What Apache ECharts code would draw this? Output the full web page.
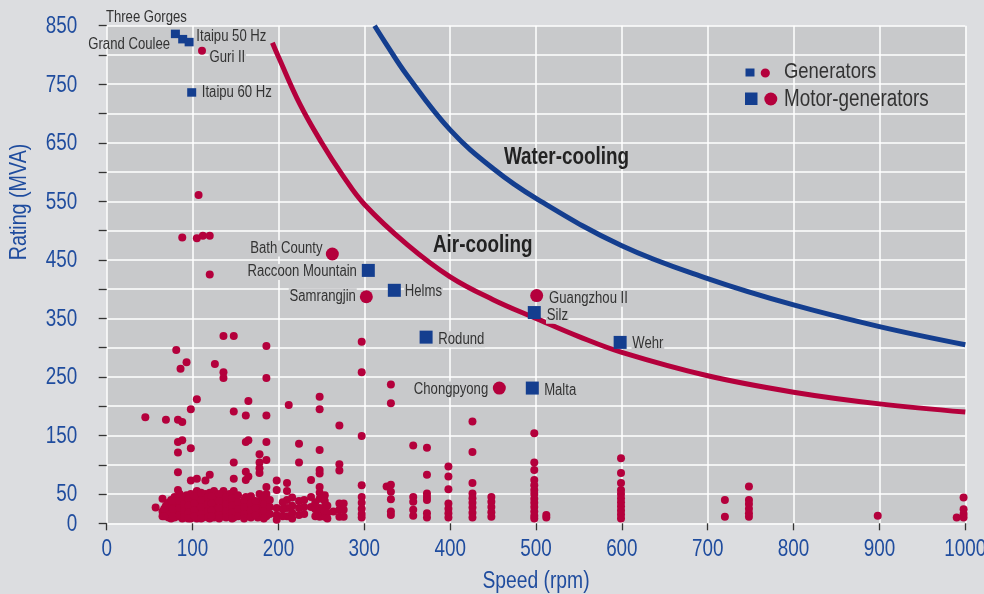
<!DOCTYPE html>
<html>
<head>
<meta charset="utf-8">
<script src="https://cdn.jsdelivr.net/npm/echarts@6/dist/echarts.min.js"></script>
<style>
html,body{margin:0;padding:0;background:#dcdde0;}
#chart{width:984px;height:594px;}
</style>
</head>
<body>
<div id="chart"></div>
<script>
// ---------- DATA ----------
const xTicks = [0,100,200,300,400,500,600,700,800,900,1000];
const yTickLabels = [0,50,150,250,350,450,550,650,750,850];

// Air-cooling limit curve (speed rpm, rating MVA)
const airSpeed  = [193,200,225,250,275,300,350,400,450,500,550,600,700,800,900,1000];
const airRating = [821,797,716,651,594,545,476,421,382,350,319,292,252,224,204,190];

// Water-cooling limit curve
const waterSpeed  = [312,325,350,400,450,500,600,700,800,900,1000];
const waterRating = [850,820,765,672,606,555,474,418,373,336,305];

// Generators (small red dots): speed column -> ratings
const genSpeeds = [45,57,65,69,72,75,79,81,83,86,88,93,98,105,107,112,115,120,125,126,129,136,143,148,158,162,165,171,176,178,186,198,210,212,224,238,248,254,264,271,276,297,326,331,357,373,398,426,448,498,512,599,720,748,898,990,998];
const genRatings = [
  [181],[27],[42,20,12],[177,30,15],[35,22,10],[40,28,15,8],[45,32,20,10],[296],
  [177,139,121,87,57,45,33,22,12],[264],[488,173,142,40,28,15,8],[275,48,35,25,12],
  [195,128,73,50,38,26,15,8],[487,212,76,55,42,30,18,8],[561],[491,45,32,20,10],
  [73,50,38,25,12],[491,425,83,52,40,28,15,8],[55,45,32,20,10],[272],[40,25,12],
  [320,258,248,55,45,33,22,12],[50,38,25,12],[320,191,104,76,55,45,32,20,10],[30,18],
  [184,139,88,74,45,35,22,12],[209,142,80,40,28,15],[25],[35,20,10],
  [118,104,94,86,50,38,25,12],[303,248,184,139,108,62,50,38,25,12],[73,57,26,14,6],
  [69,55,40,26,12],[202],[136,104,38,26,14],[74,45,28],
  [216,195,125,91,85,62,52,42,26,18,11],[48,38,28,20,11],[20],[167,101,90,34,23,11],
  [34,23,11],[310,258,149,65,45,35,25,16,10],[63],[237,205,66,54,41,20,14],
  [133,45,37,23,13],[129,83,51,45,40,17,10],[97,80,58,34,25,17,10],
  [174,122,69,51,43,35,27,18,10],[45,37,28,19,11],
  [154,104,91,74,65,57,50,42,35,28,20,13,8],[14,10],
  [111,86,69,57,50,43,36,29,22,15,8],[40,11],[63,40,33,25,17,11],[13],[10],[44,24,16,10]
];
// Generators in the dense low-rating cluster (small red dots)
const denseSpeeds = [67,77,85,90,95,102,110,118,122,131,139,146,153,160,168,173,183,190,205,216,230,243,257];
const denseRatings = [
  [25,12],[38,24,12],[50,38,26,14],[45,32,20,10],[42,30,18,8],[46,34,22,12],
  [52,40,28,16,8],[44,32,20,10],[46,34,22,12],[50,38,26,14,8],[44,32,20,10],
  [42,30,18,8],[48,36,24,12],[40,28,16,8],[46,34,22,10],[38,26,14],[44,32,20,8],
  [40,28,16],[36,24,12],[44,30,18,8],[40,28,16],[36,24,12],[30,18,8]
];

// Named generators (small blue squares)
const genSqNames  = ['Three Gorges','Grand Coulee','Itaipu 50 Hz','Itaipu 60 Hz'];
const genSqSpeed  = [80,88.5,96,99];
const genSqRating = [836,827,822,736];

// Named generator (small red dot)
const genDotNames  = ['Guri II'];
const genDotSpeed  = [111];
const genDotRating = [807];

// Motor-generators (large blue squares)
const mgSqNames  = ['Raccoon Mountain','Helms','Silz','Rodund','Wehr','Malta'];
const mgSqSpeed  = [304.7,335,498,372,598,495.7];
const mgSqRating = [432,398,360,318,309,231];

// Motor-generators (large red dots)
const mgDotNames  = ['Bath County','Samrangjin','Guangzhou II','Chongpyong'];
const mgDotSpeed  = [262.8,302.4,500.8,457.3];
const mgDotRating = [460,387,389,231];

// ---------- STYLE ----------
const RED = '#b4003c', BLUE = '#143e8f', AXISBLUE = '#1f4c9e', TXT = '#333333', PLOT = '#c8c9cb';
const FONT = "'Liberation Sans', Arial, sans-serif";
const NARROW = 0.82;
// label anchor relative to marker centre (pixels)
const labelPlace = {
  'Three Gorges': {align:'center', dx:-29, dy:-17, nobg:true},
  'Grand Coulee': {align:'right', dx:-12.7, dy:5, nobg:true},
  'Itaipu 50 Hz': {align:'left', dx:6.4, dy:-6.3},
  'Itaipu 60 Hz': {align:'left', dx:9.3, dy:0},
  'Guri II': {align:'left', dx:6.7, dy:6.6},
  'Bath County': {align:'right', dx:-9, dy:-6},
  'Raccoon Mountain': {align:'right', dx:-10.6, dy:1},
  'Samrangjin': {align:'right', dx:-9.6, dy:-1},
  'Helms': {align:'left', dx:9.7, dy:1},
  'Guangzhou II': {align:'left', dx:11.6, dy:2.6},
  'Silz': {align:'left', dx:11.7, dy:2.7},
  'Rodund': {align:'left', dx:11.4, dy:1.7},
  'Wehr': {align:'left', dx:11.4, dy:1},
  'Chongpyong': {align:'right', dx:-10.3, dy:1},
  'Malta': {align:'left', dx:11, dy:1.7}
};

function pts(names, xs, ys){ return names.map((n,i)=>({name:n, value:[xs[i],ys[i]]})); }
const genDots = [];
genSpeeds.forEach((s,i)=>genRatings[i].forEach(r=>genDots.push([s,r])));
denseSpeeds.forEach((s,i)=>denseRatings[i].forEach(r=>genDots.push([s,r])));

function txt(x, y, text, o){
  o = o || {};
  return {type:'text', x:x, y:y, scaleX:NARROW, rotation:o.rotation||0, z:100,
    style:{text:text, fill:o.fill||TXT, fontSize:o.size||16, fontFamily:FONT,
      fontWeight:o.weight||'normal', align:o.align||'left', verticalAlign:'middle',
      backgroundColor:o.bg, padding:o.bg?[0,1]:0}};
}

const chart = echarts.init(document.getElementById('chart'), null, {renderer:'canvas'});
chart.setOption({
  backgroundColor:'#dcdde0',
  animation:false,
  grid:{left:106.7, right:18.7, top:25.7, bottom:70.7, show:true, backgroundColor:PLOT, borderWidth:0},
  xAxis:{
    type:'value', min:0, max:1000, interval:100,
    axisLine:{show:false},
    axisTick:{show:true, length:7, lineStyle:{color:'#333', width:1.3}},
    axisLabel:{show:false},
    splitLine:{show:true, lineStyle:{color:'#ffffff', width:1.5}}
  },
  yAxis:{
    type:'value', min:0, max:850, interval:50,
    axisLine:{show:false},
    axisTick:{show:true, length:8, lineStyle:{color:'#333', width:1.3}},
    axisLabel:{show:false},
    splitLine:{show:true, lineStyle:{color:'#ffffff', width:1.5}}
  },
  series:[
    {type:'line', data:airSpeed.map((s,i)=>[s,airRating[i]]), smooth:0.4, showSymbol:false,
      lineStyle:{color:RED, width:5}, z:2, silent:true},
    {type:'line', data:waterSpeed.map((s,i)=>[s,waterRating[i]]), smooth:0.4, showSymbol:false,
      lineStyle:{color:BLUE, width:5}, z:2, silent:true},
    {type:'scatter', data:genDots, symbol:'circle', symbolSize:8, itemStyle:{color:RED, opacity:1}, z:3},
    {type:'scatter', data:pts(genSqNames,genSqSpeed,genSqRating), symbol:'rect', symbolSize:[9,8.5], itemStyle:{color:BLUE, opacity:1}, z:4},
    {type:'scatter', data:pts(genDotNames,genDotSpeed,genDotRating), symbol:'circle', symbolSize:8, itemStyle:{color:RED, opacity:1}, z:4},
    {type:'scatter', data:pts(mgSqNames,mgSqSpeed,mgSqRating), symbol:'rect', symbolSize:13, itemStyle:{color:BLUE, opacity:1}, z:4},
    {type:'scatter', data:pts(mgDotNames,mgDotSpeed,mgDotRating), symbol:'circle', symbolSize:13, itemStyle:{color:RED, opacity:1}, z:4}
  ]
});

// ---------- TEXT (narrow type) placed through the chart's own scales ----------
const toPx = (x,y)=>chart.convertToPixel({gridIndex:0},[x,y]);
const g = [];
xTicks.forEach(v=>{ const p=toPx(v,0); g.push(txt(p[0], 549.5, String(v), {fill:AXISBLUE, size:23, align:'center'})); });
yTickLabels.forEach(v=>{ const p=toPx(0,v); g.push(txt(77.3, p[1]+1, String(v), {fill:AXISBLUE, size:23, align:'right'})); });
g.push(txt(toPx(500,0)[0], 582, 'Speed (rpm)', {fill:AXISBLUE, size:23.5, align:'center'}));
g.push(txt(19, 202, 'Rating (MVA)', {fill:AXISBLUE, size:24, align:'center', rotation:Math.PI/2}));
g.push(txt(504, 158, 'Water-cooling', {fill:'#222', size:23, weight:'bold'}));
g.push(txt(433, 246, 'Air-cooling', {fill:'#222', size:23, weight:'bold'}));
// legend
g.push({type:'rect', shape:{x:745.5, y:68.5, width:9, height:8}, style:{fill:BLUE}, z:100});
g.push({type:'circle', shape:{cx:765.3, cy:73, r:4.6}, style:{fill:RED}, z:100});
g.push(txt(784, 72, 'Generators', {size:22.5}));
g.push({type:'rect', shape:{x:745, y:92.5, width:12.5, height:12.5}, style:{fill:BLUE}, z:100});
g.push({type:'circle', shape:{cx:770.8, cy:99, r:6.5}, style:{fill:RED}, z:100});
g.push(txt(784, 99.5, 'Motor-generators', {size:23}));
// point labels
[[genSqNames,genSqSpeed,genSqRating],[genDotNames,genDotSpeed,genDotRating],
 [mgSqNames,mgSqSpeed,mgSqRating],[mgDotNames,mgDotSpeed,mgDotRating]].forEach(([n,xs,ys])=>{
  n.forEach((name,i)=>{
    const p=toPx(xs[i],ys[i]); const L=labelPlace[name];
    g.push(txt(p[0]+L.dx, p[1]+L.dy+0.5, name, {align:L.align, bg:L.nobg?undefined:PLOT}));
  });
});
chart.setOption({graphic:g});
</script>
</body>
</html>
